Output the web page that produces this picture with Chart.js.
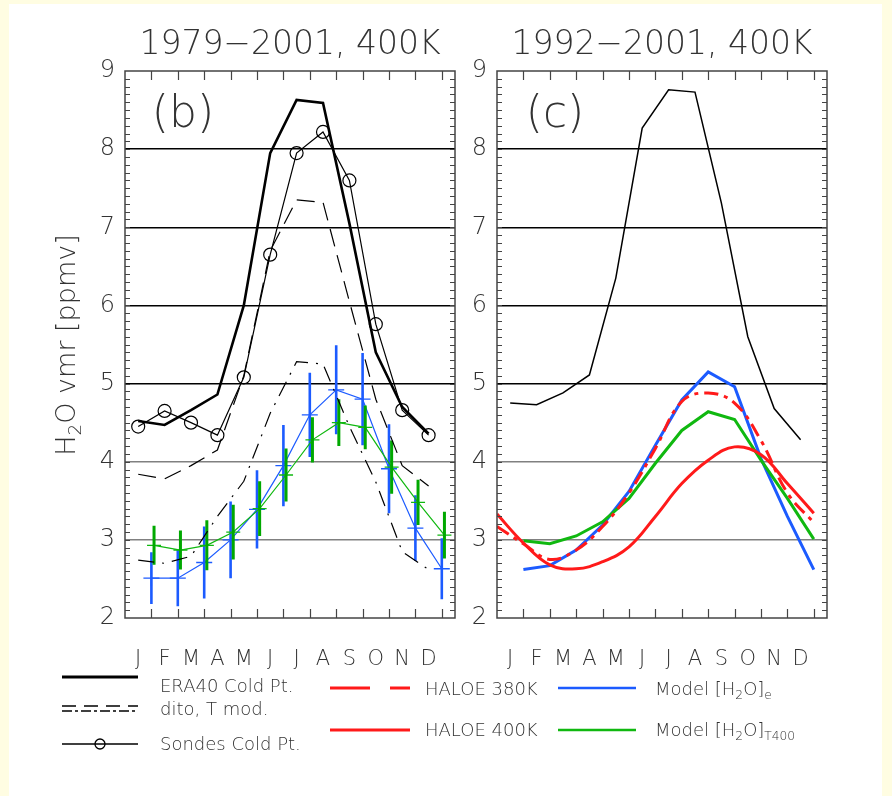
<!DOCTYPE html>
<html>
<head>
<meta charset="utf-8">
<title>H2O vmr seasonal cycle, 400K</title>
<script src="https://cdn.jsdelivr.net/npm/chart.js@4.4.1/dist/chart.umd.min.js"></script>
<style>
  html, body { margin: 0; padding: 0; }
  body { width: 892px; height: 796px; background: #fffde2; position: relative; overflow: hidden;
         font-family: "DejaVu Sans", sans-serif; font-weight: 300; color: #333; }
  #sheet { position: absolute; left: 9px; top: 4px; width: 873px; height: 792px; background: #fff; }
  canvas { position: absolute; top: 0; }
  #chartB { left: 0; }
  #chartC { left: 470px; }
  #ytitle { position: absolute; left: -84px; top: 331px; width: 300px; height: 28px; line-height: 28px;
            text-align: center; font-size: 27px; transform: rotate(-90deg); white-space: nowrap; }
  .lg { position: absolute; font-size: 18px; line-height: 20px; white-space: nowrap; }
  sub { font-size: 68%; vertical-align: -0.35em; line-height: 0; }
  #legendLines { position: absolute; left: 0; top: 0; }
</style>
</head>
<body>
<div id="sheet"></div>
<canvas id="chartB" width="470" height="680"></canvas>
<canvas id="chartC" width="422" height="680"></canvas>
<div id="ytitle">H<sub>2</sub>O vmr [ppmv]</div>

<svg id="legendLines" width="892" height="796">
  <line x1="62" y1="677" x2="138" y2="677" stroke="#000" stroke-width="3"/>
  <line x1="62" y1="706" x2="138" y2="706" stroke="#000" stroke-width="1.3" stroke-dasharray="14 8"/>
  <line x1="62" y1="711" x2="138" y2="711" stroke="#000" stroke-width="1.3" stroke-dasharray="10 3 3 3"/>
  <line x1="62" y1="744" x2="138" y2="744" stroke="#000" stroke-width="1.3"/>
  <circle cx="100" cy="744" r="5" fill="none" stroke="#000" stroke-width="1.3"/>
  <line x1="330" y1="688" x2="410" y2="688" stroke="#ff1a1a" stroke-width="3" stroke-dasharray="40 20"/>
  <line x1="330" y1="730" x2="410" y2="730" stroke="#ff1a1a" stroke-width="3"/>
  <line x1="558" y1="688" x2="636" y2="688" stroke="#1c5bff" stroke-width="2.5"/>
  <line x1="558" y1="730" x2="636" y2="730" stroke="#10b810" stroke-width="2.5"/>
</svg>
<div class="lg" style="left:160px;top:676px">ERA40 Cold Pt.</div>
<div class="lg" style="left:160px;top:699px">dito, T mod.</div>
<div class="lg" style="left:160px;top:734px">Sondes Cold Pt.</div>
<div class="lg" style="left:425px;top:679px">HALOE 380K</div>
<div class="lg" style="left:425px;top:720px">HALOE 400K</div>
<div class="lg" style="left:655px;top:679px">Model [H<sub>2</sub>O]<sub>e</sub></div>
<div class="lg" style="left:655px;top:720px">Model [H<sub>2</sub>O]<sub>T400</sub></div>

<script>
// month axis: tick marks on the month boundaries, letters in between
const monthLabels = ["J", "F", "M", "A", "M", "J", "J", "A", "S", "O", "N", "D"];
const monthPos = monthLabels.map((m, i) => i + 1);        // model values, on the month ticks
const midMonthPos = monthLabels.map((m, i) => i + 0.5);   // cold point values and labels
const haloePos = [0, 1, 2, 3, 4, 5, 6, 7, 8, 9, 10, 11, 12];
const yTicks = [2, 3, 4, 5, 6, 7, 8, 9];

// (b) 1979-2001
const era40B = [4.52, 4.47, 4.66, 4.86, 6.0, 7.95, 8.63, 8.59, 7.05, 5.4, 4.7, 4.36];
const ditoLongB = [3.84, 3.78, 3.95, 4.15, 5.1, 6.7, 7.35, 7.32, 6.05, 4.8, 3.95, 3.69];
const ditoDotB = [2.74, 2.7, 2.79, 3.3, 3.75, 4.62, 5.28, 5.25, 4.45, 3.74, 2.85, 2.62];
const sondesB = [4.45, 4.65, 4.5, 4.34, 5.08, 6.65, 7.95, 8.22, 7.6, 5.76, 4.66, 4.34];
const modelEB = [2.51, 2.51, 2.71, 3.0, 3.39, 3.95, 4.6, 4.92, 4.8, 3.91, 3.15, 2.63];
const modelEErrB = [0.33, 0.36, 0.46, 0.49, 0.5, 0.52, 0.54, 0.57, 0.59, 0.57, 0.42, 0.39];
const modelT400B = [2.93, 2.87, 2.93, 3.1, 3.4, 3.83, 4.28, 4.5, 4.44, 3.93, 3.48, 3.06];
const modelT400ErrB = [0.25, 0.25, 0.32, 0.35, 0.35, 0.34, 0.29, 0.3, 0.28, 0.34, 0.29, 0.3];

// (c) 1992-2001
const era40C = [4.75, 4.73, 4.88, 5.11, 6.35, 8.27, 8.76, 8.73, 7.31, 5.6, 4.68, 4.28];
const haloe380C = [3.17, 2.95, 2.75, 2.87, 3.17, 3.6, 4.17, 4.77, 4.88, 4.75, 4.27, 3.6, 3.22];
const haloe400C = [3.33, 2.96, 2.68, 2.63, 2.72, 2.91, 3.3, 3.72, 4.02, 4.19, 4.09, 3.72, 3.34];
const modelEC = [2.62, 2.67, 2.87, 3.19, 3.62, 4.21, 4.79, 5.15, 4.96, 4.04, 3.3, 2.62];
const modelT400C = [2.99, 2.95, 3.05, 3.23, 3.53, 3.98, 4.4, 4.64, 4.54, 4.02, 3.53, 3.01];

const FONT = '"DejaVu Sans", sans-serif';
const TXT = "#333";
const BLUE = "#1c5bff";
const GREEN = "#10b810";
const RED = "#ff1a1a";
const t400Shift = 0.1; // green markers sit a little right of the blue ones in (b)

Chart.defaults.font.family = FONT;

function pts(xs, ys, dx) {
    return ys.map((v, i) => ({ x: xs[i] + (dx || 0), y: v }));
}

// frame, inward ticks, title and panel letter
const framePlugin = {
    id: "frame",
    afterDraw(chart, args, opts) {
        const { ctx, chartArea: a, scales: { x, y } } = chart;
        ctx.save();
        ctx.strokeStyle = "#444";
        ctx.lineWidth = 1.5;
        ctx.strokeRect(a.left, a.top, a.right - a.left, a.bottom - a.top);

        ctx.lineWidth = 1.2;
        ctx.beginPath();
        monthPos.forEach(m => {
            const px = Math.round(x.getPixelForValue(m)) + 0.5;
            ctx.moveTo(px, a.bottom); ctx.lineTo(px, a.bottom - 9);
            ctx.moveTo(px, a.top); ctx.lineTo(px, a.top + 9);
        });
        for (let k = 21; k < 90; k++) {
            const py = Math.round(y.getPixelForValue(k / 10)) + 0.5;
            ctx.moveTo(a.left, py); ctx.lineTo(a.left + 5, py);
            ctx.moveTo(a.right, py); ctx.lineTo(a.right - 5, py);
        }
        ctx.stroke();

        ctx.fillStyle = TXT;
        ctx.textAlign = "center";
        ctx.textBaseline = "middle";
        ctx.font = "300 33px " + FONT;
        ctx.fillText(opts.title, (a.left + a.right) / 2, 45);
        ctx.font = "300 44px " + FONT;
        ctx.fillText(opts.label, a.left + 58, 116);
        ctx.restore();
    }
};

const errorBarPlugin = {
    id: "errorBars",
    afterDatasetDraw(chart, args) {
        const ds = chart.data.datasets[args.index];
        if (!ds.errors) return;
        const { ctx, scales: { y } } = chart;
        ctx.save();
        ctx.strokeStyle = ds.errorColor;
        ctx.lineWidth = ds.errorWidth;
        ctx.beginPath();
        args.meta.data.forEach((p, i) => {
            const v = ds.data[i].y, e = ds.errors[i];
            ctx.moveTo(p.x, y.getPixelForValue(v - e));
            ctx.lineTo(p.x, y.getPixelForValue(v + e));
        });
        ctx.stroke();
        ctx.restore();
    }
};

function makeOptions(title, label, yWidth, rightPad) {
    return {
        responsive: false,
        animation: false,
        devicePixelRatio: 1,
        layout: { padding: { top: 71, right: rightPad, left: 0, bottom: 0 } },
        plugins: {
            legend: { display: false },
            tooltip: { enabled: false },
            frame: { title: title, label: label }
        },
        elements: { point: { radius: 0 }, line: { tension: 0 } },
        scales: {
            x: {
                type: "linear",
                min: 0,
                max: 12.5,
                afterBuildTicks: s => { s.ticks = midMonthPos.map(v => ({ value: v })); },
                afterFit: s => { s.height = 62; },
                ticks: {
                    callback: (v, i) => monthLabels[i],
                    autoSkip: false,
                    maxRotation: 0,
                    padding: 21,
                    color: TXT,
                    font: { size: 21, weight: 300 }
                },
                grid: { display: false },
                border: { display: false }
            },
            y: {
                min: 2,
                max: 9,
                afterBuildTicks: s => { s.ticks = yTicks.map(v => ({ value: v })); },
                afterFit: s => { s.width = yWidth; },
                ticks: { padding: 10, color: TXT, font: { size: 24, weight: 300 } },
                grid: {
                    drawTicks: false,
                    lineWidth: 1.5,
                    color: c => {
                        const v = c.tick.value;
                        if (v <= 2 || v >= 9) return "rgba(0,0,0,0)";
                        return v >= 5 ? "#000" : "#808080";
                    }
                },
                border: { display: false }
            }
        }
    };
}

new Chart(document.getElementById("chartB"), {
    type: "line",
    data: {
        datasets: [
            {
                label: "Sondes Cold Pt.",
                data: pts(midMonthPos, sondesB),
                borderColor: "#000", borderWidth: 1.2,
                pointStyle: "circle", pointRadius: 6.5,
                pointBorderColor: "#000", pointBorderWidth: 1.2,
                pointBackgroundColor: "rgba(0,0,0,0)"
            },
            {
                label: "ERA40 Cold Pt.",
                data: pts(midMonthPos, era40B),
                borderColor: "#000", borderWidth: 2.6
            },
            {
                label: "dito, T mod.",
                data: pts(midMonthPos, ditoLongB),
                borderColor: "#000", borderWidth: 1.2, borderDash: [18, 9]
            },
            {
                label: "dito, T mod. (2)",
                data: pts(midMonthPos, ditoDotB),
                borderColor: "#000", borderWidth: 1.2, borderDash: [16, 8, 2, 8]
            },
            {
                label: "Model [H2O]T400",
                data: pts(monthPos, modelT400B, t400Shift),
                borderColor: GREEN, borderWidth: 1.2,
                pointStyle: "cross", pointRadius: 7,
                pointBorderColor: GREEN, pointBorderWidth: 1.3,
                errors: modelT400ErrB, errorColor: "#00a800", errorWidth: 3
            },
            {
                label: "Model [H2O]e",
                data: pts(monthPos, modelEB),
                borderColor: BLUE, borderWidth: 1.2,
                pointStyle: "cross", pointRadius: 8,
                pointBorderColor: BLUE, pointBorderWidth: 1.3,
                errors: modelEErrB, errorColor: BLUE, errorWidth: 2.6
            }
        ]
    },
    options: makeOptions("1979\u22122001, 400K", "(b)", 125, 15),
    plugins: [framePlugin, errorBarPlugin]
});

new Chart(document.getElementById("chartC"), {
    type: "line",
    data: {
        datasets: [
            {
                label: "HALOE 380K",
                data: pts(haloePos, haloe380C),
                borderColor: RED, borderWidth: 3, borderDash: [14, 6, 4, 6],
                tension: 0.4
            },
            {
                label: "HALOE 400K",
                data: pts(haloePos, haloe400C),
                borderColor: RED, borderWidth: 3,
                tension: 0.4
            },
            {
                label: "Model [H2O]T400",
                data: pts(monthPos, modelT400C),
                borderColor: GREEN, borderWidth: 3
            },
            {
                label: "Model [H2O]e",
                data: pts(monthPos, modelEC),
                borderColor: BLUE, borderWidth: 3
            },
            {
                label: "ERA40 Cold Pt.",
                data: pts(midMonthPos, era40C),
                borderColor: "#000", borderWidth: 1.5
            }
        ]
    },
    options: makeOptions("1992\u22122001, 400K", "(c)", 27, 65),
    plugins: [framePlugin, errorBarPlugin]
});
</script>
</body>
</html>
